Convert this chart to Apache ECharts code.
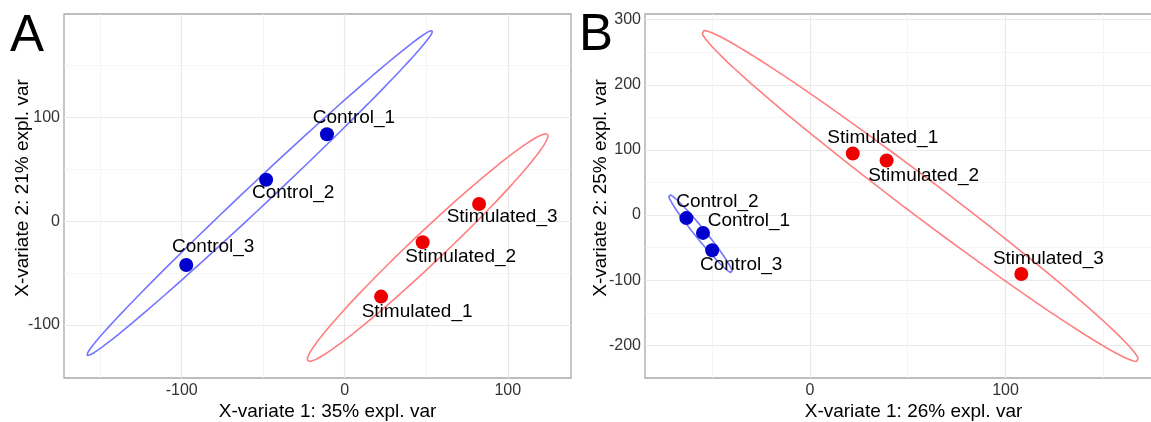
<!DOCTYPE html>
<html>
<head>
<meta charset="utf-8">
<script src="https://cdn.jsdelivr.net/npm/echarts@6/dist/echarts.min.js"></script>
<style>
  html, body { margin: 0; padding: 0; background: #fff; }
  #main { width: 1151px; height: 422px; }
</style>
</head>
<body>
<div id="main"></div>
<script>
const FONT = 'Liberation Sans, Arial, sans-serif'

// samples, same order in both panels
const samples = ['Control_1', 'Control_2', 'Control_3', 'Stimulated_1', 'Stimulated_2', 'Stimulated_3']
const sampleGroup = ['Control', 'Control', 'Control', 'Stimulated', 'Stimulated', 'Stimulated']
const groups = ['Control', 'Stimulated']

// panel A scores (X-variate 1, X-variate 2)
const compA1 = [-10.9, -48.2, -97.2, 22.3, 47.8, 82.4]
const compA2 = [83.8, 40.0, -42.2, -72.6, -20.2, 16.6]
const expVarA = [35, 21]

// panel B scores
const compB1 = [-54.7, -63.2, -50.0, 21.9, 39.2, 108.1]
const compB2 = [-27.4, -4.6, -53.9, 94.5, 83.8, -90.4]
const expVarB = [26, 25]

// tick labels and minor grid lines
const xTicksA = [-100, 0, 100]
const yTicksA = [-100, 0, 100]
const xMinorA = [-150, -50, 50]
const yMinorA = [-50, 50, 150]
const xTicksB = [0, 100]
const yTicksB = [-200, -100, 0, 100, 200, 300]
const xMinorB = [-50, 50, 150]
const yMinorB = [-150, -50, 50, 150, 250]

// label placement (pixels from the point)
const labelOffA = [[27, -17], [27, 13], [27, -18], [36, 15], [38, 15], [23, 13]]
const labelOffB = [[46, -12], [31, -16], [29, 15], [30, -16], [37, 15], [27, -15]]

const pointColors = ['#0000cd', '#ee0000']
const ellipseColors = ['#7474ff', '#ff7f7f']

// 95% confidence ellipse, like ellipse::ellipse in R
const T95 = Math.sqrt(-2 * Math.log(1 - 0.95))
function ellipse(xs, ys) {
  let n = xs.length
  let mx = xs.reduce((a, b) => a + b, 0) / n
  let my = ys.reduce((a, b) => a + b, 0) / n
  let sxx = 0, syy = 0, sxy = 0
  for (let i = 0; i < n; i++) {
    sxx += (xs[i] - mx) * (xs[i] - mx)
    syy += (ys[i] - my) * (ys[i] - my)
    sxy += (xs[i] - mx) * (ys[i] - my)
  }
  let sx = Math.sqrt(sxx / (n - 1))
  let sy = Math.sqrt(syy / (n - 1))
  let d = Math.acos((sxy / (n - 1)) / (sx * sy))
  let pts = []
  for (let k = 0; k <= 100; k++) {
    let a = 2 * Math.PI * k / 100
    pts.push([T95 * sx * Math.cos(a + d / 2) + mx, T95 * sy * Math.cos(a - d / 2) + my])
  }
  return pts
}

function makePanel(idx, c1, c2, expVar, xTicks, yTicks, xMinor, yMinor, labelOff, yNameGap) {
  let series = []
  let allPts = []
  groups.forEach((g, gi) => {
    let xs = [], ys = []
    for (let i = 0; i < samples.length; i++) {
      if (sampleGroup[i] === g) { xs.push(c1[i]); ys.push(c2[i]) }
    }
    let ell = ellipse(xs, ys)
    allPts = allPts.concat(ell)
    let s = {
      type: 'line',
      xAxisIndex: idx, yAxisIndex: idx,
      data: ell,
      showSymbol: false,
      silent: true,
      lineStyle: { color: ellipseColors[gi], width: 1.6 },
      z: 3
    }
    if (gi === 0) {
      // grid lines at the tick values
      s.markLine = {
        silent: true, symbol: 'none', z: 1,
        label: { show: false },
        data: [
          ...xTicks.map(v => ({ xAxis: v, lineStyle: { color: '#e9e9e9', width: 1.2, type: 'solid' } })),
          ...yTicks.map(v => ({ yAxis: v, lineStyle: { color: '#e9e9e9', width: 1.2, type: 'solid' } })),
          ...xMinor.map(v => ({ xAxis: v, lineStyle: { color: '#f2f2f2', width: 0.8, type: 'solid' } })),
          ...yMinor.map(v => ({ yAxis: v, lineStyle: { color: '#f2f2f2', width: 0.8, type: 'solid' } }))
        ]
      }
    }
    series.push(s)
  })
  groups.forEach((g, gi) => {
    let data = []
    for (let i = 0; i < samples.length; i++) {
      if (sampleGroup[i] !== g) continue
      data.push({
        name: samples[i],
        value: [c1[i], c2[i]],
        label: { offset: labelOff[i] }
      })
    }
    series.push({
      type: 'scatter',
      xAxisIndex: idx, yAxisIndex: idx,
      data: data,
      symbolSize: 14,
      itemStyle: { color: pointColors[gi], opacity: 1 },
      label: {
        show: true, position: 'inside',
        formatter: '{b}',
        color: '#000', fontSize: 19, fontFamily: FONT,
        align: 'center', verticalAlign: 'middle'
      },
      z: 4
    })
  })
  // ggplot-style 5% expansion around the ellipses
  let xmin = Math.min(...allPts.map(p => p[0])), xmax = Math.max(...allPts.map(p => p[0]))
  let ymin = Math.min(...allPts.map(p => p[1])), ymax = Math.max(...allPts.map(p => p[1]))
  let dx = (xmax - xmin) * 0.05, dy = (ymax - ymin) * 0.05
  let xAxis = {
    gridIndex: idx, type: 'value',
    min: xmin - dx, max: xmax + dx,
    name: 'X-variate 1: ' + expVar[0] + '% expl. var',
    nameLocation: 'middle', nameGap: 24, nameMoveOverlap: false,
    nameTextStyle: { fontFamily: FONT, fontSize: 19, color: '#000', padding: [0, 0, 0, 20] },
    axisLine: { show: false },
    axisTick: { show: true, length: 3, lineStyle: { color: '#666' }, customValues: xTicks },
    axisLabel: { customValues: xTicks, fontFamily: FONT, fontSize: 16, color: '#333', margin: 5 },
    splitLine: { show: false }
  }
  let yAxis = {
    gridIndex: idx, type: 'value',
    min: ymin - dy, max: ymax + dy,
    name: 'X-variate 2: ' + expVar[1] + '% expl. var',
    nameLocation: 'middle', nameGap: yNameGap, nameMoveOverlap: false,
    nameTextStyle: { fontFamily: FONT, fontSize: 19, color: '#000', padding: [0, 0, 0, 16] },
    axisLine: { show: false },
    axisTick: { show: true, length: 3, lineStyle: { color: '#666' }, customValues: yTicks },
    axisLabel: { customValues: yTicks, fontFamily: FONT, fontSize: 16, color: '#333', margin: 4 },
    splitLine: { show: false }
  }
  return { series, xAxis, yAxis }
}

const pA = makePanel(0, compA1, compA2, expVarA, xTicksA, yTicksA, xMinorA, yMinorA, labelOffA, 32)
const pB = makePanel(1, compB1, compB2, expVarB, xTicksB, yTicksB, xMinorB, yMinorB, labelOffB, 35)

const chart = echarts.init(document.getElementById('main'))
chart.setOption({
  animation: false,
  backgroundColor: '#fff',
  grid: [
    { left: 64, top: 14, width: 507, height: 364, outerBoundsMode: 'none', containLabel: false,
      show: true, borderColor: '#a8a8a8', borderWidth: 1.3 },
    { left: 645, top: 14, width: 517, height: 364, outerBoundsMode: 'none', containLabel: false,
      show: true, borderColor: '#a8a8a8', borderWidth: 1.3 }
  ],
  xAxis: [pA.xAxis, pB.xAxis],
  yAxis: [pA.yAxis, pB.yAxis],
  series: pA.series.concat(pB.series),
  graphic: [
    { type: 'text', left: 10, top: 11, style: { text: 'A', fontSize: 51, fontFamily: FONT, fill: '#000' } },
    { type: 'text', left: 579, top: 10, style: { text: 'B', fontSize: 51, fontFamily: FONT, fill: '#000' } }
  ]
})
</script>
</body>
</html>
